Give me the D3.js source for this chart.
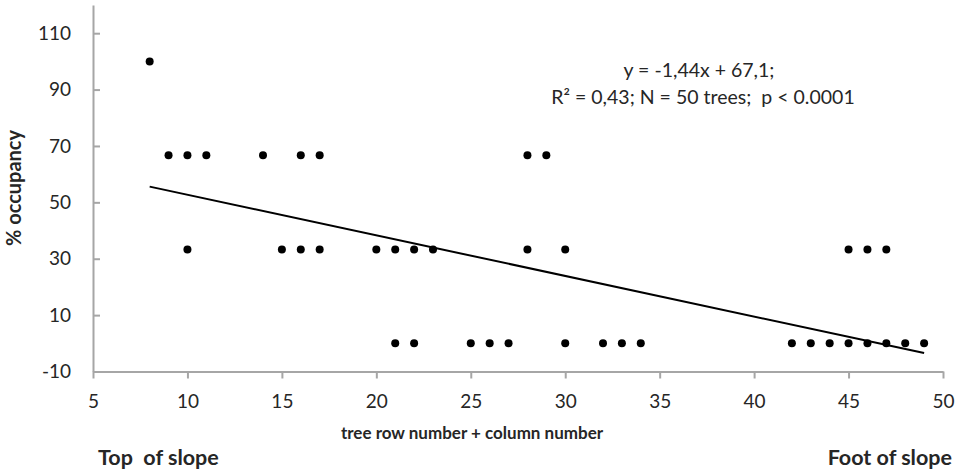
<!DOCTYPE html>
<html><head><meta charset="utf-8">
<script src="https://cdn.jsdelivr.net/npm/d3@7"></script>
<style>body{margin:0;background:#fff}svg{display:block}text{white-space:pre}</style>
</head><body>
<svg id="c" width="960" height="471"></svg>
<script>
const xVals = [8,9,10,11,10,14,15,16,16,17,17,20,21,21,22,22,23,25,26,27,28,28,29,30,30,32,33,34,42,43,44,45,45,46,46,47,47,48,49];
const yVals = [100,66.7,66.7,66.7,33.3,66.7,33.3,66.7,33.3,66.7,33.3,33.3,33.3,0,33.3,0,33.3,0,0,0,66.7,33.3,66.7,33.3,0,0,0,0,0,0,0,0,33.3,33.3,0,33.3,0,0,0];
const xTicks = [5,10,15,20,25,30,35,40,45,50];
const yTicks = [-10,10,30,50,70,90,110];
const slope = -1.44, intercept = 67.1;
const trendX = [8,49];

const svg = d3.select("#c");
const font = "Lato, 'Open Sans', sans-serif";
const txt = "#262626";
const axCol = "#a6a6a6";
const x = d3.scaleLinear().domain([5,50]).range([93,943]);
const y = d3.scaleLinear().domain([-10,120]).range([371.5,5]);

// axes
const xa = svg.append("g").attr("transform","translate(0,371.5)")
  .call(d3.axisBottom(x).tickValues(xTicks).tickFormat(d=>String(d)).tickSize(7).tickPadding(16).tickSizeOuter(0));
const ya = svg.append("g").attr("transform","translate(93,0)")
  .call(d3.axisLeft(y).tickValues(yTicks).tickFormat(d=>String(d)).tickSize(-7).tickPadding(22).tickSizeOuter(0));
[xa,ya].forEach(g=>{
  g.select(".domain").attr("stroke",axCol).attr("stroke-width",2);
  g.selectAll(".tick line").attr("stroke",axCol).attr("stroke-width",2);
  g.selectAll(".tick text").attr("fill",txt).style("font-family",font).style("font-size","19px");
});

// trend line
svg.append("line")
  .attr("x1",x(trendX[0])).attr("y1",y(slope*trendX[0]+intercept))
  .attr("x2",x(trendX[1])).attr("y2",y(slope*trendX[1]+intercept))
  .attr("stroke","#000").attr("stroke-width",2);

// points
svg.append("g").selectAll("circle").data(xVals.map((v,i)=>[v,yVals[i]])).join("circle")
  .attr("cx",d=>x(d[0])).attr("cy",d=>y(d[1])).attr("r",4).attr("fill","#000");

// equation
const eq = svg.append("text").attr("fill",txt).style("font-family",font).style("font-size","19.5px").attr("text-anchor","middle");
eq.append("tspan").attr("x",699).attr("y",77).text("y = -1,44x + 67,1;");
eq.append("tspan").attr("x",703).attr("y",104).text("R² = 0,43; N = 50 trees;  p < 0.0001");

// labels
svg.append("text").attr("transform","translate(21,188) rotate(-90)").attr("text-anchor","middle")
  .attr("fill",txt).style("font-family",font).style("font-size","20px").style("font-weight","bold").text("% occupancy");
svg.append("text").attr("x",472).attr("y",439).attr("text-anchor","middle")
  .attr("fill",txt).style("font-family",font).style("font-size","17px").style("font-weight","bold").text("tree row number + column number");
svg.append("text").attr("x",98).attr("y",465)
  .attr("fill",txt).style("font-family",font).style("font-size","21.5px").style("font-weight","bold").text("Top  of slope");
svg.append("text").attr("x",952).attr("y",465).attr("text-anchor","end")
  .attr("fill",txt).style("font-family",font).style("font-size","21.5px").style("font-weight","bold").text("Foot of slope");
</script>
</body></html>
